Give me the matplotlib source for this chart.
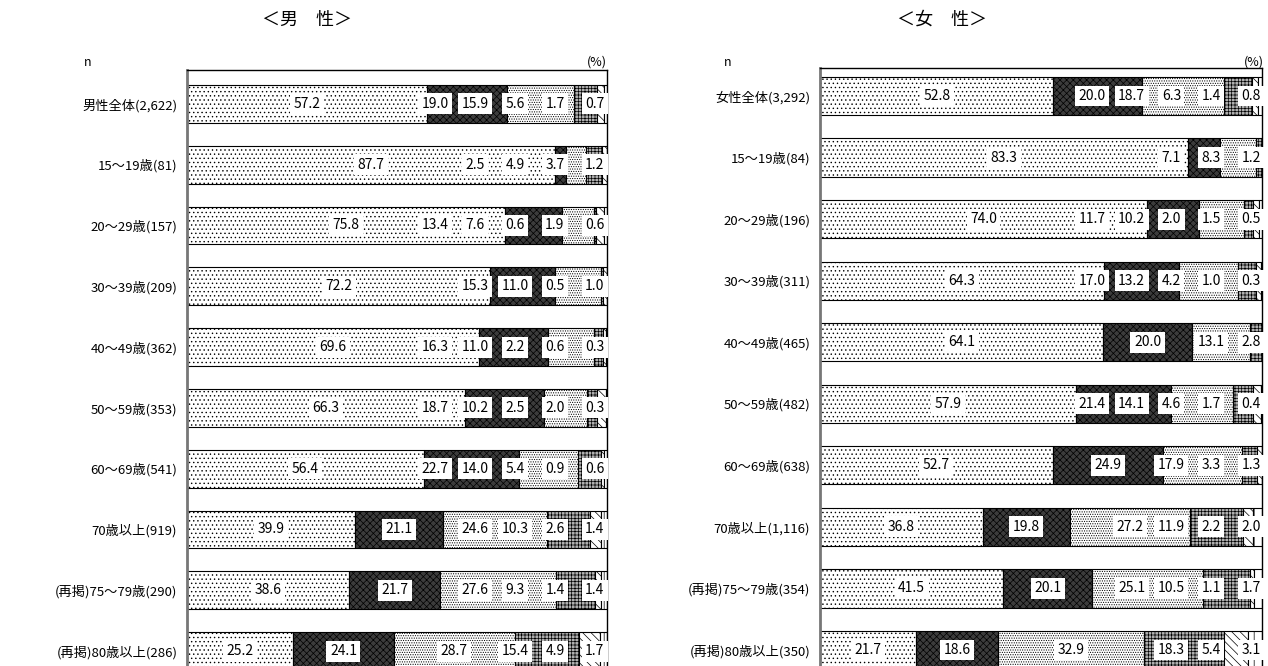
import matplotlib.pyplot as plt
import numpy as np

plt.rcParams['font.family'] = ['Noto Sans CJK JP', 'DejaVu Sans']
plt.rcParams['hatch.linewidth'] = 0.5

men_rows = ['男性全体(2,622)', '15～19歳(81)', '20～29歳(157)', '30～39歳(209)',
            '40～49歳(362)', '50～59歳(353)', '60～69歳(541)', '70歳以上(919)',
            '(再掲)75～79歳(290)', '(再掲)80歳以上(286)']
women_rows = ['女性全体(3,292)', '15～19歳(84)', '20～29歳(196)', '30～39歳(311)',
              '40～49歳(465)', '50～59歳(482)', '60～69歳(638)', '70歳以上(1,116)',
              '(再掲)75～79歳(354)', '(再掲)80歳以上(350)']

# six answer categories per row (0 = not shown)
men_a = [57.2, 87.7, 75.8, 72.2, 69.6, 66.3, 56.4, 39.9, 38.6, 25.2]
men_b = [19.0, 2.5, 13.4, 15.3, 16.3, 18.7, 22.7, 21.1, 21.7, 24.1]
men_c = [15.9, 4.9, 7.6, 11.0, 11.0, 10.2, 14.0, 24.6, 27.6, 28.7]
men_d = [5.6, 3.7, 0.6, 0.5, 2.2, 2.5, 5.4, 10.3, 9.3, 15.4]
men_e = [1.7, 1.2, 1.9, 1.0, 0.6, 2.0, 0.9, 2.6, 1.4, 4.9]
men_f = [0.7, 0.0, 0.6, 0.0, 0.3, 0.3, 0.6, 1.4, 1.4, 1.7]

women_a = [52.8, 83.3, 74.0, 64.3, 64.1, 57.9, 52.7, 36.8, 41.5, 21.7]
women_b = [20.0, 7.1, 11.7, 17.0, 20.0, 21.4, 24.9, 19.8, 20.1, 18.6]
women_c = [18.7, 8.3, 10.2, 13.2, 13.1, 14.1, 17.9, 27.2, 25.1, 32.9]
women_d = [6.3, 1.2, 2.0, 4.2, 2.8, 4.6, 3.3, 11.9, 10.5, 18.3]
women_e = [1.4, 0.0, 1.5, 1.0, 0.0, 1.7, 1.3, 2.2, 1.1, 5.4]
women_f = [0.8, 0.0, 0.5, 0.3, 0.0, 0.4, 0.0, 2.0, 1.7, 3.1]

styles = [
    dict(facecolor='white', hatch='....'),
    dict(facecolor='#3c3c3c', hatch='xxxxx'),
    dict(facecolor='white', hatch='.......'),
    dict(facecolor='#b0b0b0', hatch='+++++'),
    dict(facecolor='white', hatch='\\\\\\\\'),
    dict(facecolor='white', hatch='||'),
]


def draw_panel(ax, rows, series, gap, right_lim):
    y = np.arange(len(rows))
    data = np.array(series)
    left = np.zeros(len(rows))
    for vals, st in zip(data, styles):
        ax.barh(y, vals, left=left, height=0.62, edgecolor='black',
                linewidth=0.8, **st)
        left += vals
    # value labels, pushed leftwards so they don't collide
    for i in range(len(rows)):
        vals = data[:, i]
        starts = np.concatenate([[0], np.cumsum(vals)[:-1]])
        items = [(s + v / 2, v) for s, v in zip(starts, vals) if v > 0]
        xs = []
        nxt = right_lim + gap
        for c, v in reversed(items):
            x = min(c, nxt - gap)
            xs.append((x, v))
            nxt = x
        for x, v in xs:
            ax.text(x, i, f'{v:.1f}', ha='center', va='center', fontsize=10,
                    bbox=dict(facecolor='white', edgecolor='none', pad=2.5))
    ax.set_xlim(0, 100)
    ax.set_yticks(y)
    ax.set_yticklabels(rows, fontsize=9.5)
    ax.tick_params(axis='y', length=0, pad=7)
    ax.set_xticks([])
    for s in ['top', 'right', 'bottom']:
        ax.spines[s].set_linewidth(1.0)
    ax.spines['bottom'].set_visible(False)
    ax.spines['left'].set_color('#777777')
    ax.spines['left'].set_linewidth(2)


fig = plt.figure(figsize=(12.68, 6.66), dpi=100)

ax1 = fig.add_axes([187 / 1268, 0, 420 / 1268, 596 / 666])
draw_panel(ax1, men_rows, [men_a, men_b, men_c, men_d, men_e, men_f], 9.5, 97.1)
ax1.set_ylim(9 + 15 / 61, -34 / 61)

ax2 = fig.add_axes([820 / 1268, 0, 442 / 1268, 598 / 666])
draw_panel(ax2, women_rows, [women_a, women_b, women_c, women_d, women_e, women_f], 9.0, 97.5)
ax2.set_ylim(9 + 16 / 61.5, -28 / 61.5)

fig.text(307 / 1268, 1 - 20 / 666, '＜男　性＞', ha='center', va='center', fontsize=13)
fig.text(942 / 1268, 1 - 20 / 666, '＜女　性＞', ha='center', va='center', fontsize=13)
fig.text(88 / 1268, 1 - 62 / 666, 'n', ha='center', va='center', fontsize=9)
fig.text(728 / 1268, 1 - 62 / 666, 'n', ha='center', va='center', fontsize=9)
fig.text(607 / 1268, 1 - 62 / 666, '(%)', ha='right', va='center', fontsize=9)
fig.text(1264 / 1268, 1 - 62 / 666, '(%)', ha='right', va='center', fontsize=9)

fig.savefig('out.png', dpi=100)
